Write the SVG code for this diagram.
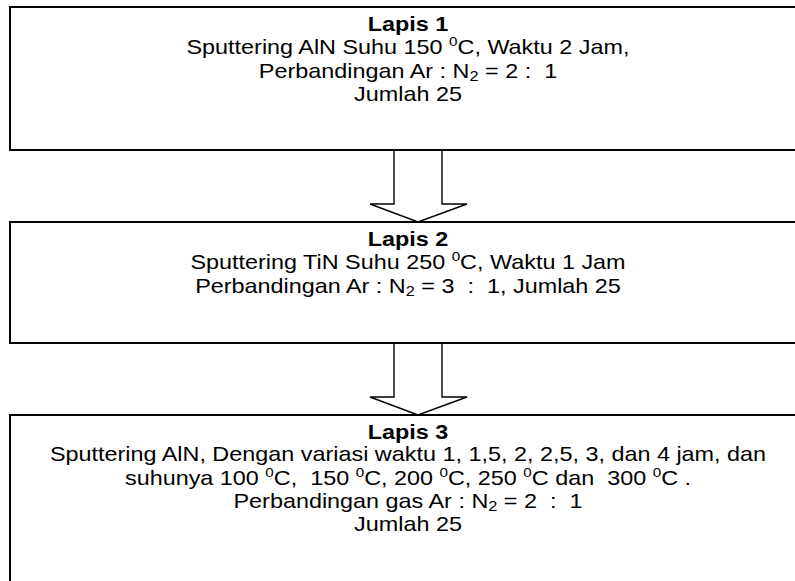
<svg xmlns="http://www.w3.org/2000/svg" width="795" height="581" viewBox="0 0 795 581">
  <style>
    .box { fill: #ffffff; stroke: #000000; stroke-width: 2; }
    .arrow { fill: #ffffff; stroke: #000000; stroke-width: 1.4; stroke-linejoin: miter; }
    text { font-family: "Liberation Sans", Arial, sans-serif; font-size: 20px; fill: #000000; text-anchor: middle; white-space: pre; }
    .title { font-weight: bold; }
    .sup { font-size: 13px; }
    .sub { font-size: 14px; }
  </style>
  <rect width="795" height="581" fill="#ffffff"/>

  <g id="connectors">
    <polyline class="arrow" points="394,151 394,204 370,204 418,222 467,204 442,204 442,151"/>
    <polyline class="arrow" points="394,344 394,397 370,397 418,415 467,397 442,397 442,344"/>
  </g>

  <g id="lapis1">
    <rect class="box" x="10" y="7" width="816" height="143"/>
    <g transform="translate(408 0) scale(1.17 1)">
      <text x="0" y="31" class="title">Lapis 1</text>
      <text x="0" y="54" xml:space="preserve">Sputtering AlN Suhu 150 <tspan class="sup" dy="-8">0</tspan><tspan dy="8">C, Waktu 2 Jam,</tspan></text>
      <text x="0" y="78" xml:space="preserve">Perbandingan Ar : N<tspan class="sub" dy="3">2</tspan><tspan dy="-3"> = 2 :  1</tspan></text>
      <text x="0" y="101">Jumlah 25</text>
    </g>
  </g>

  <g id="lapis2">
    <rect class="box" x="10" y="222" width="816" height="121"/>
    <g transform="translate(408 0) scale(1.17 1)">
      <text x="0" y="246" class="title">Lapis 2</text>
      <text x="0" y="269" xml:space="preserve">Sputtering TiN Suhu 250 <tspan class="sup" dy="-8">0</tspan><tspan dy="8">C, Waktu 1 Jam</tspan></text>
      <text x="0" y="293" xml:space="preserve">Perbandingan Ar : N<tspan class="sub" dy="3">2</tspan><tspan dy="-3"> = 3  :  1, Jumlah 25</tspan></text>
    </g>
  </g>

  <g id="lapis3">
    <rect class="box" x="10" y="415" width="816" height="180"/>
    <g transform="translate(408 0) scale(1.17 1)">
      <text x="0" y="439" class="title">Lapis 3</text>
      <text x="0" y="461">Sputtering AlN, Dengan variasi waktu 1, 1,5, 2, 2,5, 3, dan 4 jam, dan</text>
      <text x="0" y="485" xml:space="preserve">suhunya 100 <tspan class="sup" dy="-8">0</tspan><tspan dy="8">C,  150 </tspan><tspan class="sup" dy="-8">0</tspan><tspan dy="8">C, 200 </tspan><tspan class="sup" dy="-8">0</tspan><tspan dy="8">C, 250 </tspan><tspan class="sup" dy="-8">0</tspan><tspan dy="8">C dan  300 </tspan><tspan class="sup" dy="-8">0</tspan><tspan dy="8">C .</tspan></text>
      <text x="0" y="508" xml:space="preserve">Perbandingan gas Ar : N<tspan class="sub" dy="3">2</tspan><tspan dy="-3"> = 2  :  1</tspan></text>
      <text x="0" y="531">Jumlah 25</text>
    </g>
  </g>
</svg>
